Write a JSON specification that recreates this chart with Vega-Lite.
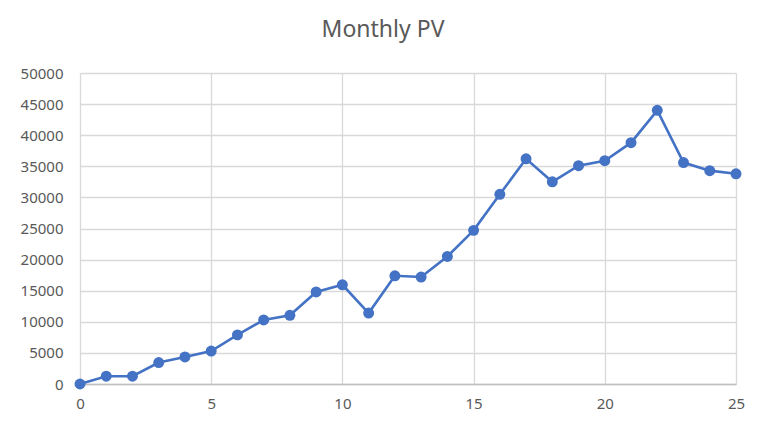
{
  "$schema": "https://vega.github.io/schema/vega-lite/v6.json",
  "width": 656,
  "height": 311,
  "autosize": {"type": "none"},
  "padding": {"left": 80, "top": 73, "right": 30, "bottom": 47},
  "background": "white",
  "title": {
    "text": "Monthly PV",
    "font": "Noto Sans",
    "fontSize": 23,
    "fontWeight": "normal",
    "color": "#595959",
    "anchor": "middle",
    "dx": -25,
    "offset": 24
  },
  "config": {
    "view": {"stroke": null},
    "axis": {
      "labelFont": "Noto Sans",
      "labelColor": "#595959",
      "gridColor": "#d9d9d9",
      "gridWidth": 1.3,
      "ticks": false
    }
  },
  "data": {
    "values": [
      {"month": 0, "pv": 0},
      {"month": 1, "pv": 1250},
      {"month": 2, "pv": 1250},
      {"month": 3, "pv": 3450},
      {"month": 4, "pv": 4350},
      {"month": 5, "pv": 5300},
      {"month": 6, "pv": 7900},
      {"month": 7, "pv": 10300},
      {"month": 8, "pv": 11050},
      {"month": 9, "pv": 14800},
      {"month": 10, "pv": 15950},
      {"month": 11, "pv": 11400},
      {"month": 12, "pv": 17400},
      {"month": 13, "pv": 17200},
      {"month": 14, "pv": 20500},
      {"month": 15, "pv": 24700},
      {"month": 16, "pv": 30500},
      {"month": 17, "pv": 36200},
      {"month": 18, "pv": 32500},
      {"month": 19, "pv": 35100},
      {"month": 20, "pv": 35900},
      {"month": 21, "pv": 38800},
      {"month": 22, "pv": 44000},
      {"month": 23, "pv": 35600},
      {"month": 24, "pv": 34300},
      {"month": 25, "pv": 33800}
    ]
  },
  "encoding": {
    "x": {
      "field": "month",
      "type": "quantitative",
      "scale": {"domain": [0, 25], "nice": false},
      "axis": {
        "title": null,
        "values": [0, 5, 10, 15, 20, 25],
        "labelFlush": false,
        "labelFontSize": 15,
        "labelPadding": 12,
        "domainColor": "#bfbfbf",
        "domainWidth": 1.5
      }
    },
    "y": {
      "field": "pv",
      "type": "quantitative",
      "scale": {"domain": [0, 50000], "nice": false},
      "axis": {
        "title": null,
        "values": [0, 5000, 10000, 15000, 20000, 25000, 30000, 35000, 40000, 45000, 50000],
        "format": "d",
        "labelFontSize": 15,
        "labelPadding": 17,
        "domain": false
      }
    }
  },
  "layer": [
    {
      "mark": {"type": "line", "color": "#4472c4", "strokeWidth": 2.6}
    },
    {
      "mark": {"type": "circle", "color": "#4472c4", "size": 120, "opacity": 1}
    }
  ]
}
